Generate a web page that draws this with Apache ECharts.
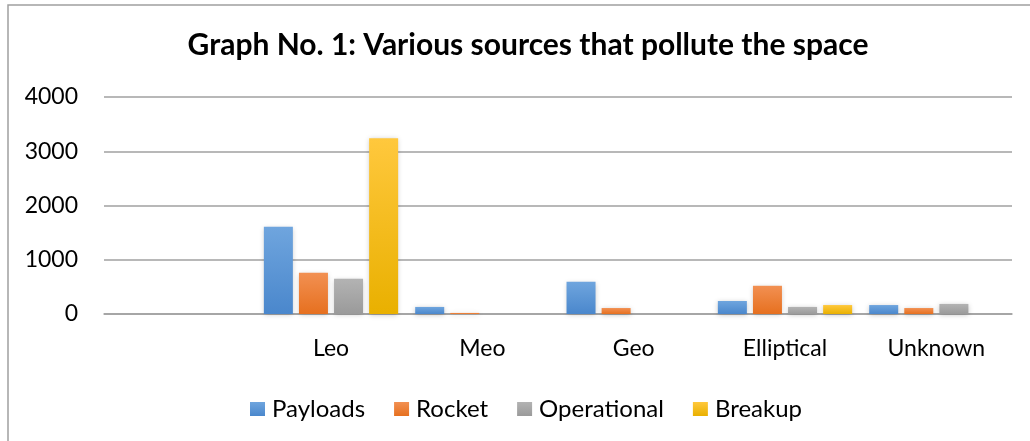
<!DOCTYPE html>
<html>
<head>
<meta charset="utf-8">
<script src="https://cdn.jsdelivr.net/npm/echarts@6/dist/echarts.min.js"></script>
<style>
  html, body { margin: 0; padding: 0; background: #fff; }
  #chart { width: 1030px; height: 441px; }
</style>
</head>
<body>
<div id="chart"></div>
<script>
// categories (first one is an empty slot, as in the source sheet)
const categories = ['', 'Leo', 'Meo', 'Geo', 'Elliptical', 'Unknown'];
const payloads    = [0, 1610, 130, 595, 240, 165];
const rocket      = [0, 760, 20, 110, 520, 110];
const operational = [0, 650, 0, 0, 130, 185];
const breakup     = [0, 3240, 0, 0, 165, 0];
const yTicks = [0, 1000, 2000, 3000, 4000];

const font = 'Lato, "Open Sans", sans-serif';

const grad = (top, bottom) => new echarts.graphic.LinearGradient(0, 0, 0, 1, [
  { offset: 0, color: top }, { offset: 1, color: bottom }
]);

const mk = (name, data, top, bottom) => ({
  name: name,
  type: 'bar',
  data: data,
  barWidth: 29,
  barGap: '21%',
  itemStyle: {
    color: grad(top, bottom),
    shadowColor: 'rgba(0,0,0,0.22)',
    shadowBlur: 5,
    shadowOffsetY: 1
  },
  emphasis: { disabled: true }
});

const chart = echarts.init(document.getElementById('chart'));
chart.setOption({
  animation: false,
  color: ['#5b9bd5', '#ed7d31', '#a5a5a5', '#ffc000'],
  title: {
    text: 'Graph No. 1: Various sources that pollute the space',
    left: 523,
    textAlign: 'center',
    top: 25,
    textStyle: { fontFamily: font, fontWeight: 'bold', fontSize: 30, color: '#000' }
  },
  graphic: [{
    type: 'rect',
    shape: { x: 8, y: 5, width: 1040, height: 460 },
    style: { fill: 'none', stroke: '#a0a0a0', lineWidth: 1.5 },
    z: -1
  }],
  legend: {
    left: 245,
    top: 392,
    itemWidth: 15,
    itemHeight: 14,
    itemGap: 29,
    icon: 'rect',
    textStyle: { fontFamily: font, fontSize: 24, color: '#000', padding: [0, 0, 0, 2] },
    data: ['Payloads', 'Rocket', 'Operational', 'Breakup']
  },
  grid: { left: 104, right: 18, top: 97, bottom: 127 },
  xAxis: {
    type: 'category',
    data: categories,
    axisTick: { show: false },
    axisLine: { lineStyle: { color: '#a0a0a0', width: 1.5 } },
    axisLabel: { margin: 23, fontFamily: font, fontSize: 23, color: '#000' }
  },
  yAxis: {
    type: 'value',
    min: yTicks[0],
    max: yTicks[yTicks.length - 1],
    interval: 1000,
    axisLine: { show: false },
    axisTick: { show: false },
    splitLine: { lineStyle: { color: '#a0a0a0', width: 1.5 } },
    axisLabel: {
      margin: 26, fontFamily: font, fontSize: 23, color: '#000',
      formatter: v => String(v)
    }
  },
  series: [
    mk('Payloads', payloads, '#6fa5de', '#4a87cc'),
    mk('Rocket', rocket, '#f29052', '#e6701f'),
    mk('Operational', operational, '#b3b3b3', '#9a9a9a'),
    mk('Breakup', breakup, '#ffc83d', '#e9b000')
  ]
});
</script>
</body>
</html>
